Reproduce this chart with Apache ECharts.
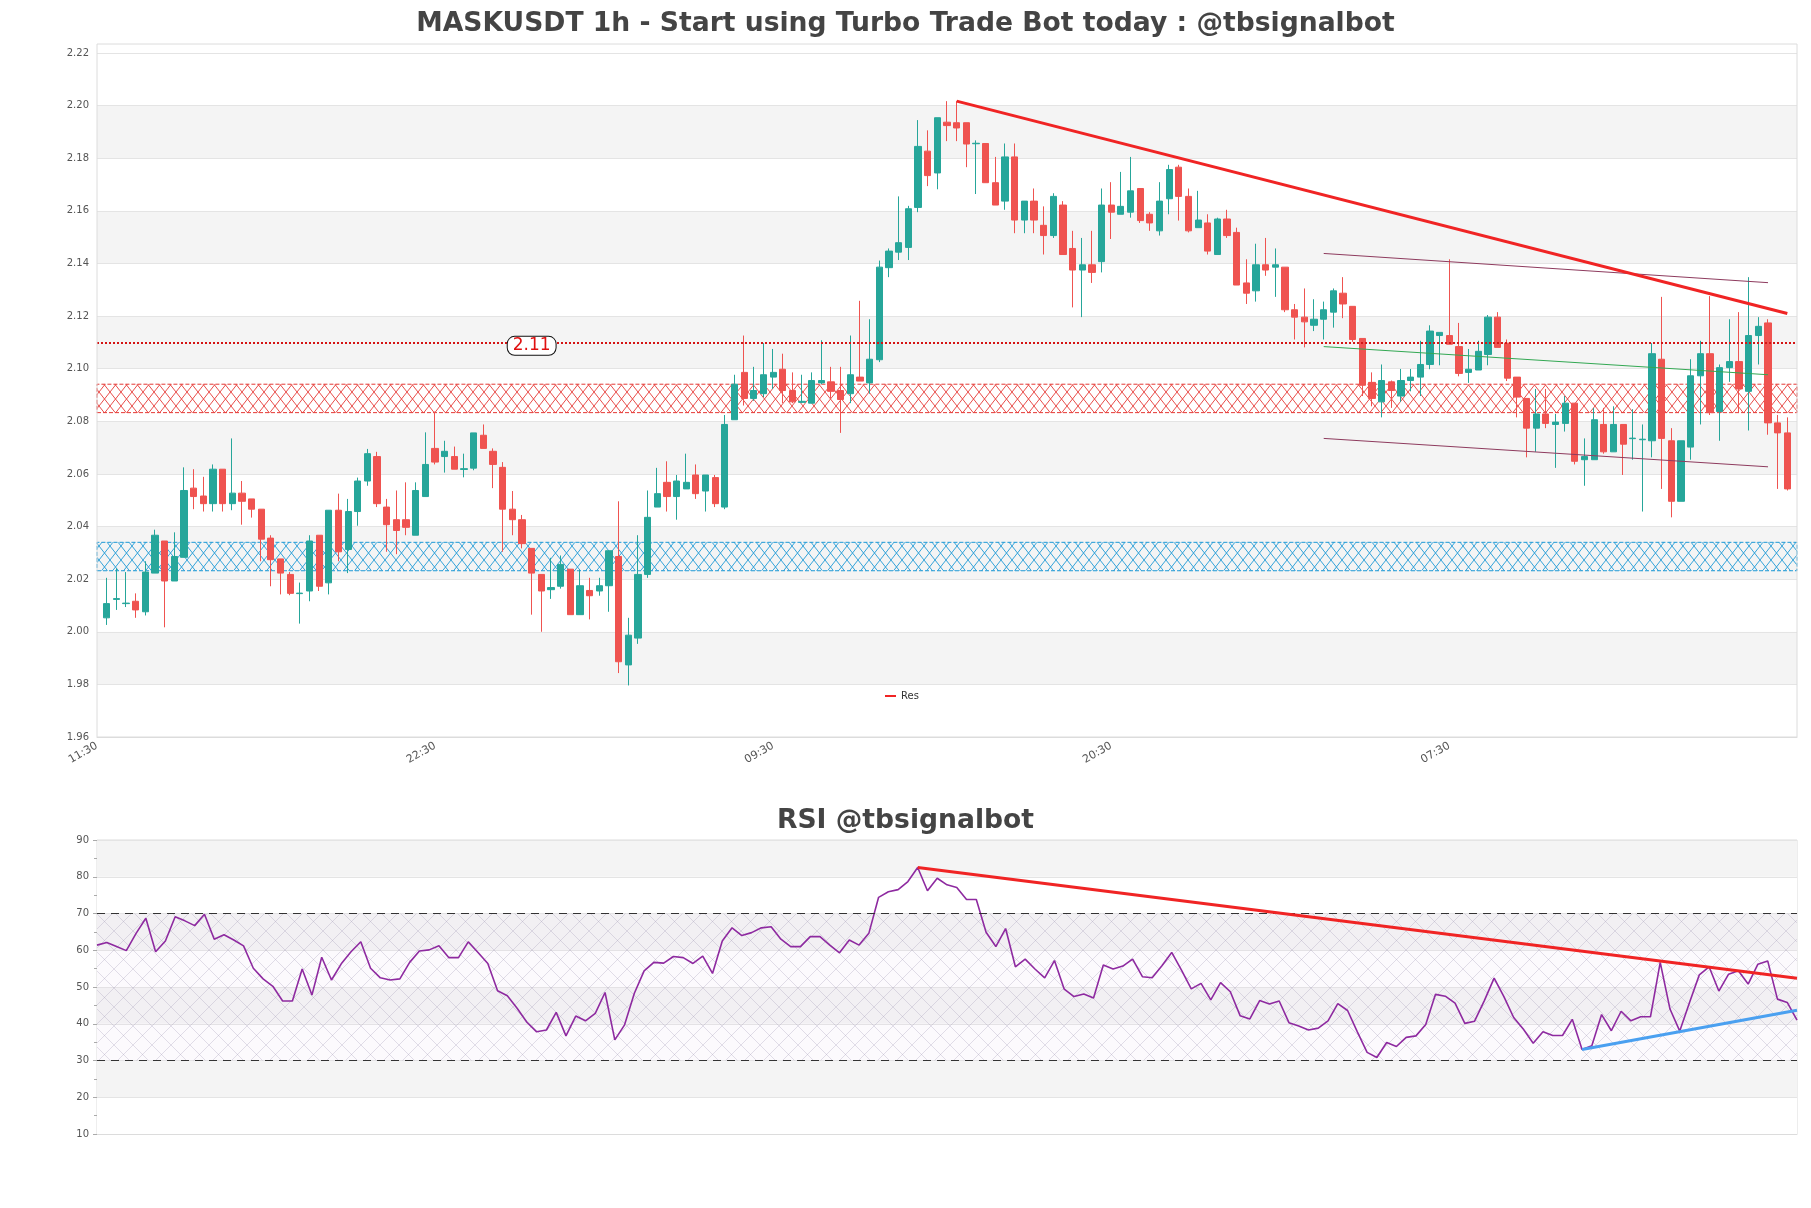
<!DOCTYPE html>
<html><head><meta charset="utf-8">
<script src="https://cdn.jsdelivr.net/npm/echarts@6/dist/echarts.min.js"></script>
<style>html,body{margin:0;padding:0;background:#fff}#c{width:1811px;height:1208px}</style>
</head><body><div id="c"></div>
<script>
// ---------- DATA ----------
const hoursCycle = ["11:30","12:30","13:30","14:30","15:30","16:30","17:30","18:30","19:30","20:30","21:30","22:30","23:30","00:30","01:30","02:30","03:30","04:30","05:30","06:30","07:30","08:30","09:30","10:30"];
const categories = [].concat(hoursCycle,hoursCycle,hoursCycle,hoursCycle,hoursCycle,hoursCycle,hoursCycle,
  ["11:30","12:30","13:30","14:30","15:30","16:30","17:30","18:30","19:30"]);
const opens = [2.0053,2.0123,2.0107,2.0116,2.0076,2.0223,2.0345,2.0193,2.0283,2.0546,2.0516,2.0487,2.0618,2.0487,2.0527,2.0505,2.0466,2.0356,2.0277,2.0218,2.0145,2.0155,2.0367,2.0186,2.0462,2.0313,2.0457,2.0573,2.0666,2.0474,2.0426,2.0426,2.0367,2.0514,2.0697,2.0666,2.0666,2.0617,2.0622,2.0747,2.0686,2.0625,2.0466,2.0426,2.0317,2.0218,2.0160,2.0173,2.0238,2.0065,2.0157,2.0155,2.0175,2.0286,1.9874,1.9976,2.0218,2.0474,2.0568,2.0514,2.0543,2.0596,2.0535,2.0586,2.0474,2.0806,2.0986,2.0887,2.0905,2.0968,2.0998,2.0917,2.0872,2.0869,2.0946,2.0950,2.0917,2.0905,2.0968,2.0946,2.1034,2.1384,2.1443,2.1461,2.1613,2.1827,2.1744,2.1937,2.1935,2.1935,2.1855,2.1856,2.1707,2.1637,2.1805,2.1565,2.1637,2.1545,2.1506,2.1622,2.1457,2.1375,2.1395,2.1407,2.1622,2.1587,2.1595,2.1685,2.1587,2.1524,2.1646,2.1766,2.1655,2.1536,2.1554,2.1434,2.1569,2.1518,2.1326,2.1296,2.1395,2.1386,2.1386,2.1224,2.1196,2.1165,2.1188,2.1215,2.1287,2.1237,2.1115,2.0948,2.0874,2.0950,2.0896,2.0955,2.0968,2.1016,2.1126,2.1126,2.1084,2.0986,2.0995,2.1054,2.1196,2.1097,2.0968,2.0887,2.0774,2.0828,2.0788,2.0792,2.0869,2.0654,2.0654,2.0788,2.0684,2.0788,2.0734,2.0730,2.0726,2.1036,2.0726,2.0496,2.0702,2.0973,2.1057,2.0837,2.1004,2.1027,2.0914,2.1126,2.1174,2.0794,2.0756];
const closes = [2.0107,2.0126,2.0109,2.0083,2.0227,2.0367,2.0193,2.0286,2.0537,2.0514,2.0487,2.0618,2.0487,2.0527,2.0496,2.0466,2.0352,2.0274,2.0223,2.0146,2.0147,2.0345,2.0173,2.0462,2.0304,2.0457,2.0573,2.0677,2.0487,2.0407,2.0385,2.0397,2.0537,2.0636,2.0645,2.0686,2.0618,2.0620,2.0756,2.0697,2.0636,2.0466,2.0426,2.0335,2.0223,2.0155,2.0168,2.0256,2.0065,2.0175,2.0137,2.0175,2.0308,1.9886,1.9987,2.0218,2.0435,2.0525,2.0514,2.0573,2.0568,2.0525,2.0596,2.0487,2.0788,2.0941,2.0887,2.0917,2.0977,2.0986,2.0917,2.0874,2.0876,2.0955,2.0955,2.0914,2.0883,2.0977,2.0953,2.1036,2.1386,2.1447,2.1479,2.1608,2.1845,2.1734,2.1954,2.1924,2.1915,2.1854,2.1857,2.1707,2.1622,2.1805,2.1565,2.1637,2.1565,2.1506,2.1655,2.1434,2.1375,2.1395,2.1366,2.1622,2.1595,2.1617,2.1676,2.1563,2.1554,2.1637,2.1757,2.1655,2.1524,2.1565,2.1447,2.1569,2.1506,2.1318,2.1287,2.1395,2.1375,2.1395,2.1224,2.1196,2.1178,2.1188,2.1224,2.1296,2.1246,2.1111,2.0937,2.0887,2.0955,2.0917,2.0955,2.0968,2.1016,2.1143,2.1138,2.1093,2.0982,2.0998,2.1066,2.1196,2.1081,2.0964,2.0892,2.0774,2.0828,2.0792,2.0797,2.0869,2.0648,2.0666,2.0806,2.0684,2.0788,2.0713,2.0736,2.0732,2.1057,2.0735,2.0496,2.0726,2.0973,2.1057,2.0833,2.1004,2.1027,2.0923,2.1126,2.1161,2.0794,2.0756,2.0543];
const lows = [2.0026,2.0083,2.0094,2.0053,2.0062,2.0223,2.0017,2.0193,2.0283,2.0466,2.0457,2.0457,2.0457,2.0462,2.0407,2.0434,2.0268,2.0173,2.0142,2.0139,2.0031,2.0116,2.0155,2.0142,2.0268,2.0223,2.0403,2.0555,2.0474,2.0304,2.0295,2.0367,2.0367,2.0514,2.0636,2.0605,2.0618,2.0587,2.0614,2.0697,2.0546,2.0304,2.0367,2.0317,2.0065,2.0000,2.0125,2.0164,2.0065,2.0065,2.0047,2.0137,2.0076,1.9843,1.9796,1.9954,2.0205,2.0474,2.0457,2.0426,2.0543,2.0505,2.0457,2.0474,2.0466,2.0806,2.0860,2.0878,2.0892,2.0923,2.0869,2.0869,2.0869,2.0869,2.0941,2.0887,2.0756,2.0869,2.0953,2.0905,2.1025,2.1348,2.1413,2.1413,2.1595,2.1694,2.1682,2.1865,2.1865,2.1766,2.1664,2.1707,2.1622,2.1604,2.1515,2.1515,2.1515,2.1434,2.1497,2.1434,2.1233,2.1196,2.1326,2.1366,2.1493,2.1587,2.1574,2.1554,2.1524,2.1506,2.1587,2.1563,2.1518,2.1536,2.1434,2.1434,2.1497,2.1318,2.1246,2.1255,2.1353,2.1273,2.1215,2.1111,2.1081,2.1143,2.1111,2.1156,2.1192,2.1102,2.0896,2.0857,2.0815,2.0851,2.0874,2.0914,2.0896,2.0998,2.1013,2.1093,2.0971,2.0946,2.0995,2.1013,2.1081,2.0953,2.0815,2.0663,2.0684,2.0774,2.0623,2.0761,2.0636,2.0555,2.0654,2.0677,2.0684,2.0596,2.0654,2.0457,2.0663,2.0543,2.0435,2.0496,2.0654,2.0788,2.0824,2.0726,2.0950,2.0833,2.0765,2.1016,2.0749,2.0543,2.0537];
const highs = [2.0205,2.0241,2.0227,2.0146,2.0268,2.0388,2.0345,2.0378,2.0625,2.0618,2.0589,2.0636,2.0618,2.0735,2.0573,2.0505,2.0466,2.0367,2.0277,2.0227,2.0187,2.0367,2.0367,2.0462,2.0525,2.0505,2.0586,2.0695,2.0684,2.0505,2.0537,2.0568,2.0568,2.0758,2.0837,2.0726,2.0704,2.0677,2.0756,2.0788,2.0697,2.0645,2.0535,2.0444,2.0317,2.0218,2.0281,2.0290,2.0238,2.0236,2.0205,2.0205,2.0308,2.0496,2.0053,2.0367,2.0537,2.0623,2.0648,2.0596,2.0677,2.0636,2.0596,2.0596,2.0824,2.0977,2.1126,2.1007,2.1097,2.1075,2.1057,2.0986,2.0977,2.0986,2.1108,2.1007,2.1007,2.1126,2.1258,2.1188,2.1411,2.1457,2.1655,2.1619,2.1945,2.1906,2.1954,2.2017,2.2017,2.1935,2.1868,2.1856,2.1805,2.1856,2.1856,2.1637,2.1685,2.1617,2.1667,2.1637,2.1524,2.1497,2.1524,2.1685,2.1709,2.1748,2.1805,2.1685,2.1595,2.1709,2.1775,2.1775,2.1685,2.1676,2.1587,2.1574,2.1604,2.1536,2.1416,2.1475,2.1497,2.1457,2.1386,2.1246,2.1305,2.1264,2.1255,2.1305,2.1348,2.1237,2.1115,2.0986,2.1016,2.0955,2.0999,2.0999,2.1106,2.1165,2.1138,2.1416,2.1174,2.1075,2.1106,2.1204,2.1215,2.1111,2.0968,2.0887,2.0923,2.0923,2.0828,2.0896,2.0869,2.0735,2.0851,2.0851,2.0857,2.0788,2.0846,2.0788,2.1097,2.1273,2.0774,2.0726,2.1036,2.1106,2.1276,2.1016,2.1188,2.1215,2.1348,2.1196,2.1188,2.0824,2.0815];
const rsiValues = [61.4,62.1,61.0,59.9,64.6,68.7,59.6,62.5,69.1,68.0,66.7,69.8,63.0,64.2,62.8,61.2,55.1,52.2,50.2,46.2,46.2,54.9,47.8,58.1,51.9,56.3,59.6,62.3,55.1,52.5,51.9,52.2,56.7,59.8,60.1,61.2,58.0,58.0,62.3,59.4,56.4,49.0,47.6,44.2,40.4,37.8,38.3,43.1,36.7,42.1,40.8,42.8,48.5,35.6,39.7,48.3,54.4,56.7,56.5,58.3,58.0,56.4,58.4,53.7,62.5,66.1,64.0,64.8,66.1,66.4,63.0,61.0,61.0,63.7,63.7,61.4,59.3,62.8,61.4,64.6,74.4,75.9,76.5,78.7,82.5,76.2,79.6,77.8,77.1,73.8,73.8,64.9,61.0,65.9,55.5,57.6,54.9,52.5,57.2,49.4,47.4,48.1,47.0,56.0,54.9,55.7,57.6,52.8,52.5,55.8,59.4,54.6,49.5,51.0,46.5,51.2,48.7,42.2,41.3,46.3,45.4,46.2,40.3,39.4,38.3,38.8,40.8,45.5,43.6,37.8,32.2,30.8,34.9,33.8,36.3,36.7,39.8,48.0,47.5,45.6,40.1,40.7,46.3,52.4,47.4,41.7,38.5,34.7,37.8,36.8,36.8,41.2,33.0,34.0,42.5,38.1,43.4,40.8,41.9,41.9,56.7,44.0,38.0,45.8,53.3,55.5,48.9,53.5,54.4,50.8,56.2,57.1,46.7,45.8,41.0];
const resLine = [[89, 2.2017], [175, 2.1210]];
const channelUpper = [[127, 2.1438], [173, 2.1327]];
const channelLower = [[127, 2.0735], [173, 2.0627]];
const midLine = [[127, 2.1084], [173, 2.0977]];
const resLevel = 2.1087;
const resLevelLabelIdx = 45;
const redZone = [2.0833, 2.0941];
const blueZone = [2.0232, 2.0340];
const rsiTrendDown = [[84, 82.5], [174, 52.4]];
const rsiTrendUp = [[152, 33.0], [174, 43.7]];
const rsiBand = [30, 70];

// ---------- BUILD ----------
const candleData = [null].concat(opens.map((o, i) => [o, closes[i], lows[i], highs[i]]), [null]).map(d => d === null ? '-' : d);
const rsiCats = categories.slice(1, 176);

function hatch(color, w, h, lw, bg) {
  const c = document.createElement('canvas'); c.width = w; c.height = h;
  const g = c.getContext('2d');
  if (bg) { g.fillStyle = bg; g.fillRect(0, 0, w, h); }
  g.strokeStyle = color; g.lineWidth = lw;
  g.beginPath(); g.moveTo(0, 0); g.lineTo(w, h); g.moveTo(w, 0); g.lineTo(0, h); g.stroke();
  return { image: c, repeat: 'repeat' };
}

const FONT = 'DejaVu Sans';
const chart = echarts.init(document.getElementById('c'), null, { renderer: 'canvas' });
chart.setOption({
  animation: false,
  backgroundColor: '#fff',
  textStyle: { fontFamily: FONT },
  title: [
    { text: 'MASKUSDT 1h - Start using Turbo Trade Bot today : @tbsignalbot', left: 'center', top: 6,
      textStyle: { fontFamily: FONT, fontSize: 26.6, fontWeight: 'bold', color: '#444' } },
    { text: 'RSI @tbsignalbot', left: 'center', top: 803,
      textStyle: { fontFamily: FONT, fontSize: 26.6, fontWeight: 'bold', color: '#444' } }
  ],
  legend: { data: [{ name: 'Res', icon: 'rect' }], left: 880, top: 686, itemWidth: 11, itemHeight: 2,
    textStyle: { fontSize: 10, color: '#333', fontFamily: FONT } },
  graphic: [{ type: 'rect', shape: { x: 97, y: 44, width: 1700, height: 693 }, style: { fill: 'none', stroke: '#dcdcdc', lineWidth: 1 }, z: 100, silent: true }],
  grid: [
    { left: 97, right: 14, top: 53, height: 684 },
    { left: 97, right: 14, top: 840, height: 294, show: true, borderColor: '#dcdcdc', borderWidth: 1 }
  ],
  xAxis: [
    { type: 'category', data: categories, boundaryGap: false, gridIndex: 0,
      axisLine: { lineStyle: { color: '#dcdcdc' } }, axisTick: { show: false },
      axisLabel: { rotate: 30, fontSize: 11, color: '#555', margin: 8, interval: (i) => i % 35 === 0 && i <= 140 },
      splitLine: { show: false } },
    { type: 'category', data: rsiCats, boundaryGap: false, gridIndex: 1,
      axisLine: { lineStyle: { color: '#dcdcdc' } }, axisTick: { show: false }, axisLabel: { show: false }, splitLine: { show: false } }
  ],
  yAxis: [
    { type: 'value', gridIndex: 0, min: 1.96, max: 2.22, interval: 0.02, scale: true,
      axisLine: { show: false }, axisTick: { show: false },
      axisLabel: { fontSize: 10, color: '#555', formatter: v => v.toFixed(2) },
      splitLine: { lineStyle: { color: '#e4e4e4' } },
      splitArea: { show: true, areaStyle: { color: ['#ffffff', '#f4f4f4'] } } },
    { type: 'value', gridIndex: 1, min: 10, max: 90, interval: 10,
      axisLine: { show: false }, axisTick: { show: true, length: 4, lineStyle: { color: '#aaa' } },
      minorTick: { show: true, splitNumber: 2, length: 3, lineStyle: { color: '#aaa' } },
      axisLabel: { fontSize: 10, color: '#555' },
      splitLine: { lineStyle: { color: '#e4e4e4' } },
      splitArea: { show: true, areaStyle: { color: ['#ffffff', '#f4f4f4'] } } }
  ],
  series: [
    { type: 'candlestick', name: 'price', xAxisIndex: 0, yAxisIndex: 0, data: candleData, barWidth: '70%',
      itemStyle: { color: '#26a69a', color0: '#ef5350', borderColor: '#26a69a', borderColor0: '#ef5350', borderWidth: 1 },
      markArea: { silent: true, data: [
        [{ yAxis: redZone[0], itemStyle: { color: hatch('#e53935', 11, 14, 0.9), borderColor: '#e53935', borderWidth: 1, borderType: 'dashed' } }, { yAxis: redZone[1] }],
        [{ yAxis: blueZone[0], itemStyle: { color: hatch('#1e9ad6', 11, 14, 0.9), borderColor: '#1e9ad6', borderWidth: 1, borderType: 'dashed' } }, { yAxis: blueZone[1] }]
      ] },
      markLine: { silent: true, symbol: ['none', 'none'], label: { show: false },
        lineStyle: { color: '#d41414', type: 'dotted', width: 2 }, data: [{ yAxis: resLevel }] },
      markPoint: { silent: true, symbol: 'rect', symbolSize: [1, 1], itemStyle: { color: 'rgba(0,0,0,0)' },
        label: { show: true, position: 'inside', formatter: resLevel.toFixed(2), color: '#e01010', fontSize: 17, fontFamily: FONT,
          backgroundColor: '#fff', borderColor: '#111', borderWidth: 1, borderRadius: 7, padding: [0, 5, 0, 5], lineHeight: 18 },
        data: [{ coord: [resLevelLabelIdx, resLevel] }] }
    },
    { type: 'line', name: 'Res', xAxisIndex: 0, yAxisIndex: 0, data: resLine, symbol: 'none',
      lineStyle: { color: '#f02424', width: 3 }, itemStyle: { color: '#f02424' }, z: 5 },
    { type: 'line', name: 'chU', xAxisIndex: 0, yAxisIndex: 0, data: channelUpper, symbol: 'none', lineStyle: { color: '#8e3b5e', width: 1 }, z: 4 },
    { type: 'line', name: 'chL', xAxisIndex: 0, yAxisIndex: 0, data: channelLower, symbol: 'none', lineStyle: { color: '#8e3b5e', width: 1 }, z: 4 },
    { type: 'line', name: 'mid', xAxisIndex: 0, yAxisIndex: 0, data: midLine, symbol: 'none', lineStyle: { color: '#33a853', width: 1 }, z: 4 },
    { type: 'line', name: 'RSI', xAxisIndex: 1, yAxisIndex: 1, data: rsiValues, symbol: 'none',
      lineStyle: { color: '#8e2aa0', width: 1.6 }, z: 3,
      markArea: { silent: true, data: [[{ yAxis: rsiBand[0], itemStyle: { color: hatch('rgba(160,150,180,0.38)', 19, 19, 0.8, 'rgba(228,215,240,0.12)') } }, { yAxis: rsiBand[1] }]] },
      markLine: { silent: true, symbol: ['none', 'none'], label: { show: false },
        lineStyle: { color: '#333', type: [8, 6], width: 1 }, data: [{ yAxis: rsiBand[1] }, { yAxis: rsiBand[0] }] } },
    { type: 'line', name: 'rsiDown', xAxisIndex: 1, yAxisIndex: 1, data: rsiTrendDown, symbol: 'none', lineStyle: { color: '#f02424', width: 3 }, z: 5 },
    { type: 'line', name: 'rsiUp', xAxisIndex: 1, yAxisIndex: 1, data: rsiTrendUp, symbol: 'none', lineStyle: { color: '#4aa0f0', width: 3 }, z: 5 }
  ]
});
</script></body></html>
